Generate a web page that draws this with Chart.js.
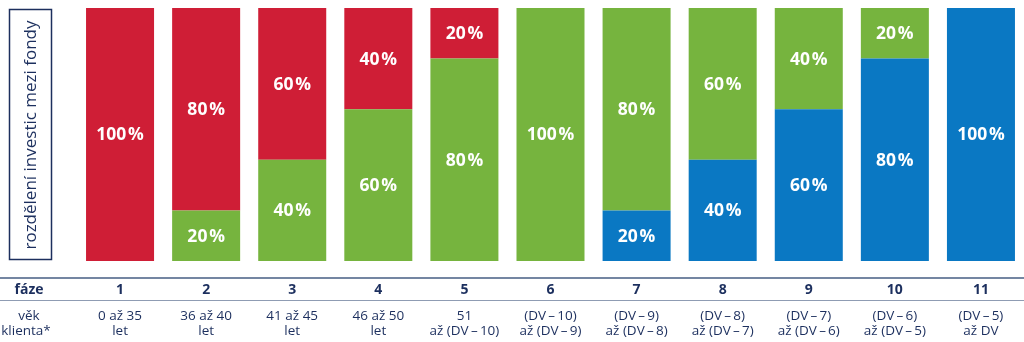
<!DOCTYPE html>
<html>
<head>
<meta charset="utf-8">
<script src="https://cdn.jsdelivr.net/npm/chart.js@4/dist/chart.umd.min.js"></script>
<style>
  html, body { margin: 0; padding: 0; background: #fff; overflow: hidden; }
  canvas { display: block; }
</style>
</head>
<body>
<canvas id="fondy" width="1024" height="342"></canvas>
<script>
// fáze 1..11
const phases = ['1', '2', '3', '4', '5', '6', '7', '8', '9', '10', '11'];
const ages = [
  ['0 až 35', 'let'], ['36 až 40', 'let'], ['41 až 45', 'let'], ['46 až 50', 'let'],
  ['51', 'až (DV\u2009–\u200910)'], ['(DV\u2009–\u200910)', 'až (DV\u2009–\u20099)'],
  ['(DV\u2009–\u20099)', 'až (DV\u2009–\u20098)'], ['(DV\u2009–\u20098)', 'až (DV\u2009–\u20097)'],
  ['(DV\u2009–\u20097)', 'až (DV\u2009–\u20096)'], ['(DV\u2009–\u20096)', 'až (DV\u2009–\u20095)'],
  ['(DV\u2009–\u20095)', 'až DV']
];
// podíly (%) – zdola: modrá, zelená, červená
const blue = [0, 0, 0, 0, 0, 0, 20, 40, 60, 80, 100];
const green = [0, 20, 40, 60, 80, 100, 80, 60, 40, 20, 0];
const red = [100, 80, 60, 40, 20, 0, 0, 0, 0, 0, 0];

const NAVY = '#1c2f5e';
const FONT = '"Open Sans", sans-serif';

const segLabels = {
  id: 'segLabels',
  afterDatasetsDraw(chart) {
    const ctx = chart.ctx;
    ctx.save();
    ctx.fillStyle = '#fff';
    ctx.font = 'bold 17.5px ' + FONT;
    ctx.textAlign = 'center';
    ctx.textBaseline = 'middle';
    chart.data.datasets.forEach((ds, i) => {
      chart.getDatasetMeta(i).data.forEach((bar, j) => {
        const v = ds.data[j];
        if (!v) return;
        ctx.fillText(v + '\u200A%', bar.x, (bar.y + bar.base) / 2 + 1);
      });
    });
    ctx.restore();
  }
};

const frame = {
  id: 'frame',
  afterDraw(chart) {
    const ctx = chart.ctx;
    const x = chart.scales.x;
    ctx.save();
    // rámeček s popisem
    ctx.strokeStyle = NAVY;
    ctx.lineWidth = 1.5;
    ctx.strokeRect(9.5, 9.5, 42, 250);
    ctx.translate(31, 135);
    ctx.rotate(-Math.PI / 2);
    ctx.fillStyle = NAVY;
    ctx.font = '17px ' + FONT;
    ctx.textAlign = 'center';
    ctx.textBaseline = 'middle';
    ctx.fillText('rozdělení investic mezi fondy', 0, 0);
    ctx.restore();

    ctx.save();
    // čáry tabulky
    ctx.strokeStyle = '#7486a2';
    ctx.lineWidth = 2;
    ctx.beginPath();
    ctx.moveTo(0, 278); ctx.lineTo(chart.width, 278);
    ctx.stroke();
    ctx.lineWidth = 1;
    ctx.strokeStyle = '#8f9cb3';
    ctx.beginPath();
    ctx.moveTo(0, 300.5); ctx.lineTo(chart.width, 300.5);
    ctx.stroke();
    // popisy řádků
    ctx.fillStyle = NAVY;
    ctx.textAlign = 'center';
    ctx.textBaseline = 'middle';
    ctx.font = 'bold 14px ' + FONT;
    ctx.fillText('fáze', 29, 290);
    phases.forEach((p, i) => ctx.fillText(p, x.getPixelForValue(i), 290));
    ctx.font = '13.5px ' + FONT;
    ctx.fillText('věk', 29, 316);
    ctx.fillText('klienta*', 26, 331);
    ages.forEach((a, i) => {
      const px = x.getPixelForValue(i);
      ctx.fillText(a[0], px, 316);
      ctx.fillText(a[1], px, 331);
    });
    ctx.restore();
  }
};

new Chart(document.getElementById('fondy'), {
  type: 'bar',
  data: {
    labels: phases,
    datasets: [
      { label: 'modrá', data: blue, backgroundColor: '#0a78c3' },
      { label: 'zelená', data: green, backgroundColor: '#76b43e' },
      { label: 'červená', data: red, backgroundColor: '#cf1e36' }
    ]
  },
  options: {
    responsive: false,
    animation: false,
    layout: { padding: { left: 77, right: 0, top: 8, bottom: 81 } },
    datasets: { bar: { categoryPercentage: 0.79, barPercentage: 1, borderWidth: 0 } },
    plugins: { legend: { display: false }, tooltip: { enabled: false } },
    scales: {
      y: { stacked: true, min: 0, max: 100, display: false },
      x: { stacked: true, display: false }
    }
  },
  plugins: [segLabels, frame]
});
</script>
</body>
</html>
